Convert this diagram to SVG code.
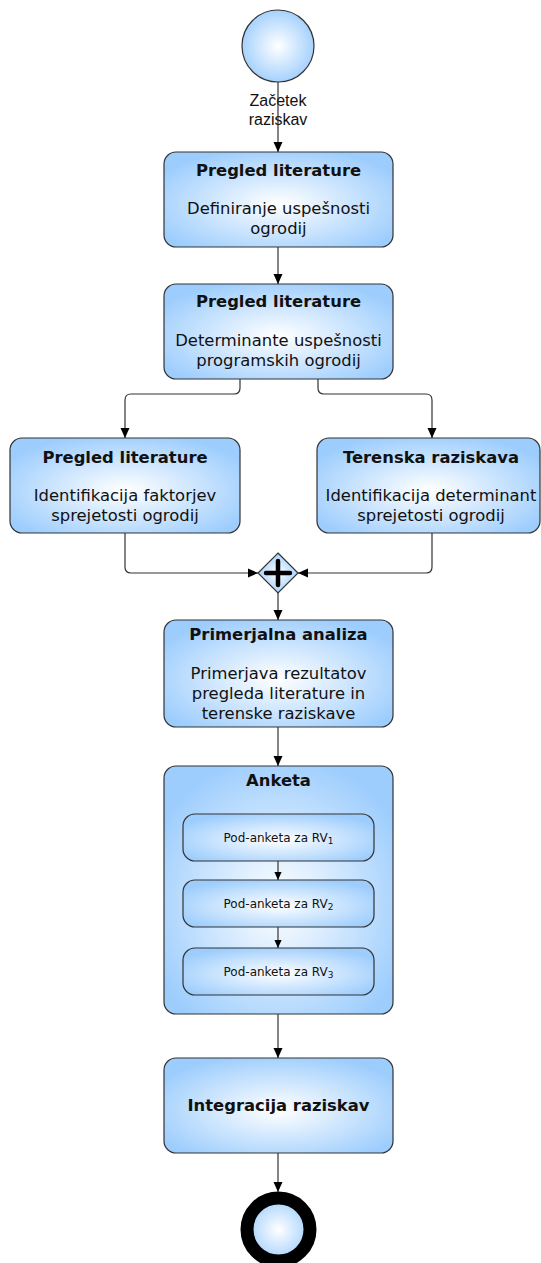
<svg xmlns="http://www.w3.org/2000/svg" width="541" height="1263" viewBox="0 0 541 1263">
  <defs>
    <radialGradient id="fill" cx="50%" cy="55%" r="60%">
      <stop offset="0" stop-color="#ffffff"/>
      <stop offset="1" stop-color="#9dcdfd"/>
    </radialGradient>
    <radialGradient id="fillEv" cx="50%" cy="50%" r="55%">
      <stop offset="0" stop-color="#ffffff"/>
      <stop offset="1" stop-color="#9dcdfd"/>
    </radialGradient>
    <marker id="arr" viewBox="0 0 10 10" refX="10" refY="5" markerWidth="10" markerHeight="10" markerUnits="userSpaceOnUse" orient="auto">
      <path d="M0,0.5 L10,5 L0,9.5 Z" fill="#000"/>
    </marker>
    <marker id="arrS" viewBox="0 0 10 10" refX="10" refY="5" markerWidth="8" markerHeight="8" markerUnits="userSpaceOnUse" orient="auto">
      <path d="M0,0.5 L10,5 L0,9.5 Z" fill="#000"/>
    </marker>
  </defs>
  <style>
    .task { fill: url(#fill); stroke: #333; stroke-width: 1.2; }
    .ev { fill: url(#fillEv); stroke: #333; stroke-width: 1.2; }
    .t { font-family: "DejaVu Sans", Verdana, sans-serif; font-size: 16.4px; fill: #111; text-anchor: middle; }
    .b { font-weight: bold; }
    .s { font-family: "DejaVu Sans", Verdana, sans-serif; font-size: 12px; fill: #111; text-anchor: middle; }
    .lbl { font-family: "Liberation Sans", Arial, sans-serif; font-size: 16px; fill: #111; text-anchor: middle; }
    .c { fill: none; stroke: #333; stroke-width: 1.2; marker-end: url(#arr); }
    .cs { fill: none; stroke: #333; stroke-width: 1.2; marker-end: url(#arrS); }
  </style>

  <rect width="541" height="1263" fill="#fff"/>

  <!-- start event -->
  <g id="start">
    <circle class="ev" cx="278" cy="46" r="36"/>
    <text class="lbl" x="278" y="106">Začetek</text>
    <text class="lbl" x="278" y="125">raziskav</text>
  </g>

  <g id="lit-definicija">
    <rect class="task" x="164" y="152" width="229" height="95" rx="12"/>
    <text class="t b" x="278.5" y="176">Pregled literature</text>
    <text class="t" x="278.5" y="214">Definiranje uspešnosti</text>
    <text class="t" x="278.5" y="234">ogrodij</text>
  </g>

  <g id="lit-determinante">
    <rect class="task" x="164" y="284" width="229" height="95" rx="12"/>
    <text class="t b" x="278.5" y="307">Pregled literature</text>
    <text class="t" x="278.5" y="346">Determinante uspešnosti</text>
    <text class="t" x="278.5" y="366">programskih ogrodij</text>
  </g>

  <g id="lit-faktorji">
    <rect class="task" x="10" y="438" width="230" height="95" rx="12"/>
    <text class="t b" x="125" y="463">Pregled literature</text>
    <text class="t" x="125" y="501">Identifikacija faktorjev</text>
    <text class="t" x="125" y="521">sprejetosti ogrodij</text>
  </g>

  <g id="terenska">
    <rect class="task" x="317" y="438" width="223" height="95" rx="12"/>
    <text class="t b" x="431" y="463">Terenska raziskava</text>
    <text class="t" x="431" y="501">Identifikacija determinant</text>
    <text class="t" x="431" y="521">sprejetosti ogrodij</text>
  </g>

  <!-- parallel gateway -->
  <g id="gateway">
    <path d="M278,553 L298,573 L278,593 L258,573 Z" fill="url(#fillEv)" stroke="#333" stroke-width="1.2"/>
    <path d="M278,561 V585 M266,573 H290" stroke="#000" stroke-width="4.5" stroke-linecap="round"/>
  </g>

  <g id="primerjalna">
    <rect class="task" x="164" y="620" width="229" height="107" rx="12"/>
    <text class="t b" x="278.5" y="640">Primerjalna analiza</text>
    <text class="t" x="278.5" y="679">Primerjava rezultatov</text>
    <text class="t" x="278.5" y="699">pregleda literature in</text>
    <text class="t" x="278.5" y="719">terenske raziskave</text>
  </g>

  <g id="anketa">
    <rect class="task" x="164" y="766" width="229" height="248" rx="12"/>
    <text class="t b" x="278.5" y="786">Anketa</text>
  </g>

  <g id="rv1">
    <rect class="task" x="183" y="814" width="191" height="47" rx="12"/>
    <text class="s" x="278.5" y="842">Pod-anketa za RV<tspan font-size="9" dy="2">1</tspan></text>
  </g>
  <g id="rv2">
    <rect class="task" x="183" y="880" width="191" height="47" rx="12"/>
    <text class="s" x="278.5" y="908">Pod-anketa za RV<tspan font-size="9" dy="2">2</tspan></text>
  </g>
  <g id="rv3">
    <rect class="task" x="183" y="948" width="191" height="47" rx="12"/>
    <text class="s" x="278.5" y="976">Pod-anketa za RV<tspan font-size="9" dy="2">3</tspan></text>
  </g>

  <g id="integracija">
    <rect class="task" x="164" y="1058" width="229" height="95" rx="12"/>
    <text class="t b" x="278.5" y="1111">Integracija raziskav</text>
  </g>

  <!-- end event -->
  <g id="end">
    <circle cx="278.5" cy="1229.5" r="31.5" fill="url(#fillEv)" stroke="#000" stroke-width="13"/>
  </g>

  <!-- flow connectors, drawn last so the inner ones sit above the Anketa container -->
  <g id="connectors">
    <path class="c" d="M278,82 V152"/>
    <path class="c" d="M278,247 V284"/>
    <path class="c" d="M240,379 V388 Q240,394 234,394 H131 Q125,394 125,400 V438"/>
    <path class="c" d="M318,379 V388 Q318,394 324,394 H426 Q432,394 432,400 V438"/>
    <path class="c" d="M125,533 V567 Q125,573 131,573 H258"/>
    <path class="c" d="M432,533 V567 Q432,573 426,573 H298"/>
    <path class="c" d="M278,593 V620"/>
    <path class="c" d="M278,727 V766"/>
    <path class="cs" d="M278,861 V880"/>
    <path class="cs" d="M278,927 V948"/>
    <path class="c" d="M278,1014 V1058"/>
    <path class="c" d="M278,1153 V1192"/>
  </g>
</svg>
